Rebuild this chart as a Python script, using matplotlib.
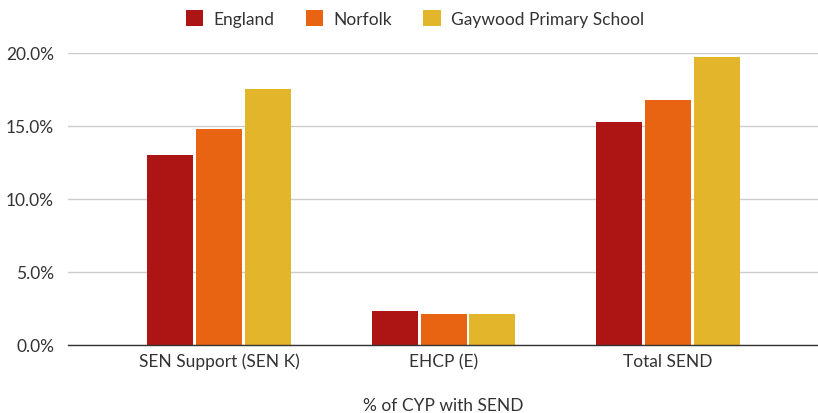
import matplotlib
matplotlib.use("Agg")
import matplotlib.pyplot as plt
from matplotlib.ticker import FuncFormatter
import numpy as np

# values (percent of CYP)
categories = ["SEN Support (SEN K)", "EHCP (E)", "Total SEND"]
england = [13.0, 2.3, 15.3]
norfolk = [14.8, 2.1, 16.8]
gaywood = [17.5, 2.1, 19.7]
series_names = ["England", "Norfolk", "Gaywood Primary School"]
colours = ["#AD1515", "#E86412", "#E3B52A"]

plt.rcParams['font.family'] = ['Lato', 'DejaVu Sans']
txt = "#333333"
fs = 12.5

fig = plt.figure(figsize=(8.18, 4.14), dpi=100)
ax = fig.add_axes([68 / 818, 1 - 345.5 / 414, 1 - 68 / 818, (345.5 - 54) / 414])

x = np.arange(len(categories))
step = 0.218
width = 0.205
for i, (vals, name, col) in enumerate(zip([england, norfolk, gaywood], series_names, colours)):
    ax.bar(x + (i - 1) * step, vals, width, color=col, label=name, zorder=3)

ax.set_xlim(-0.6726, 2.668)
ax.set_ylim(0, 20)
ax.set_yticks([0, 5, 10, 15, 20])
ax.yaxis.set_major_formatter(FuncFormatter(lambda v, p: f"{v:.1f}%"))
ax.set_xticks(x)
ax.set_xticklabels(categories)
ax.tick_params(axis='both', length=0, labelsize=fs, colors=txt)
ax.tick_params(axis='x', pad=6)
ax.tick_params(axis='y', pad=10)

ax.grid(axis='y', color="#cccccc", linewidth=1, zorder=0)
for s in ["top", "right", "left"]:
    ax.spines[s].set_visible(False)
ax.spines["bottom"].set_color("#333333")
ax.spines["bottom"].set_linewidth(1)
ax.spines["bottom"].set_zorder(4)

ax.set_xlabel("% of CYP with SEND", fontsize=fs, color=txt, labelpad=20)

ax.legend(loc="upper center", bbox_to_anchor=(415 / 818, 1.01), bbox_transform=fig.transFigure,
          ncol=3, frameon=False, fontsize=fs, handlelength=1.0, handleheight=1.0,
          handletextpad=0.6, columnspacing=1.8, labelcolor=txt)

fig.savefig("out.png", dpi=100)
